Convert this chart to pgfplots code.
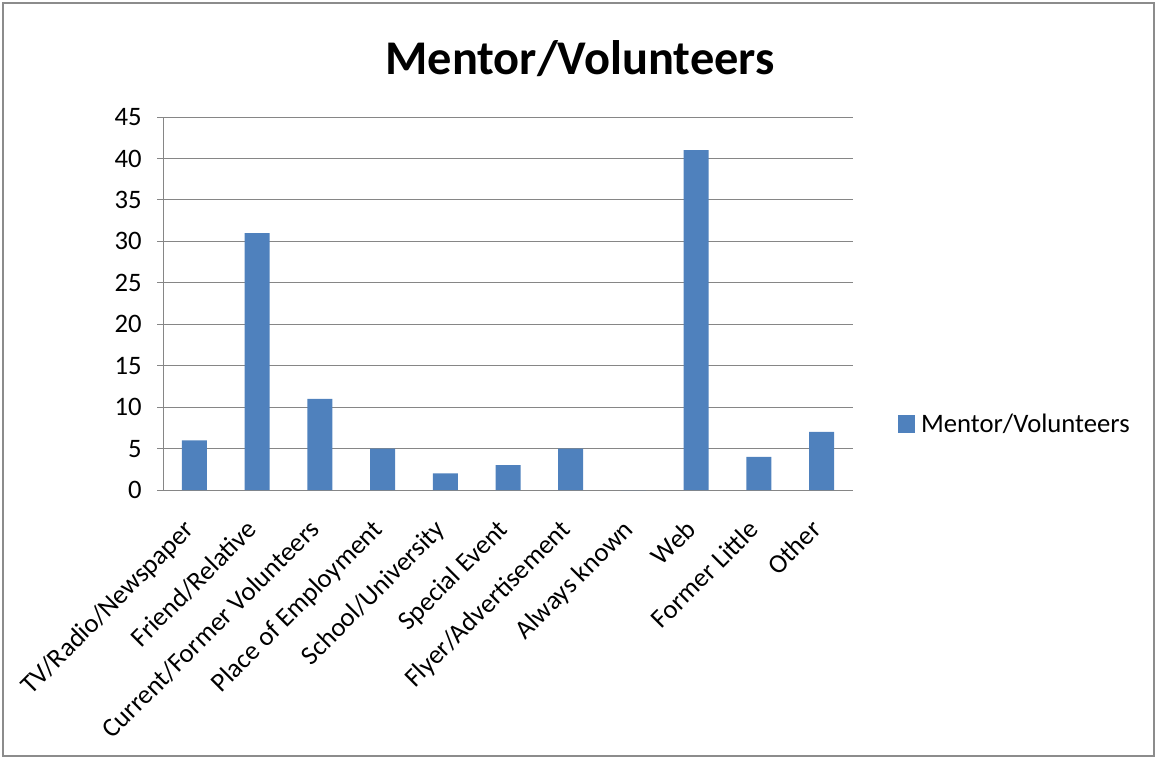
\documentclass[border=0pt]{standalone}
\usepackage{pgfplots}
\pgfplotsset{compat=1.18}
\usepackage{fontspec}
\setmainfont{Carlito}
\definecolor{barblue}{HTML}{4F81BD}
\definecolor{gridgray}{HTML}{868686}
\definecolor{bordergray}{HTML}{8C8C8C}
\begin{document}
\begin{tikzpicture}
\path (0pt,0pt) rectangle (867.75pt,568.5pt);
\draw[bordergray, line width=1.5pt] (2.25pt,1.5pt) rectangle (865.5pt,566.25pt);
\node[font=\fontsize{36.3}{44}\selectfont\bfseries] at (435pt,524.5pt) {Mentor/Volunteers};
\begin{axis}[
  at={(122.25pt,201pt)}, anchor=south west,
  scale only axis, width=517.5pt, height=279.75pt,
  xmin=-0.5, xmax=10.5, ymin=0, ymax=45,
  ytick={0,5,...,45},
  ymajorgrids, grid style={gridgray, line width=0.75pt},
  axis x line*=bottom, axis y line*=left,
  axis line style={gridgray, line width=0.75pt, -},
  tick align=outside, major tick length=4.5pt,
  tick style={gridgray, line width=0.75pt},
  xtick={0,...,10},
  xticklabels={TV/Radio/Newspaper, Friend/Relative, Current/Former Volunteers, Place of Employment, School/University, Special Event, Flyer/Advertisement, Always known, Web, Former Little, Other},
  xtick style={draw=none},
  extra x ticks={-0.5,0.5,...,10.5},
  extra x tick labels={},
  extra x tick style={tick style={draw=gridgray, line width=0.75pt}, grid=none},
  tick label style={font=\fontsize{20}{24}\selectfont, text=black},
  x tick label style={xshift=-9pt, yshift=-15pt, rotate=45, anchor=north east, inner sep=1pt},
  y tick label style={xshift=-8pt},
  /pgf/number format/assume math mode=true,
  legend style={at={(1.065,0.177)}, anchor=west, draw=none, fill=none,
    font=\fontsize{20}{24}\selectfont, inner sep=0pt, nodes={inner xsep=4.5pt}},
  legend image code/.code={\fill[barblue] (0pt,-6.4pt) rectangle (12.75pt,6.4pt);},
]
\addplot[ybar, bar width=18.75pt, fill=barblue, draw=none] coordinates {
 (0,6) (1,31) (2,11) (3,5) (4,2) (5,3) (6,5) (7,0) (8,41) (9,4) (10,7)};
\addlegendentry{Mentor/Volunteers}
\end{axis}
\end{tikzpicture}
\end{document}
